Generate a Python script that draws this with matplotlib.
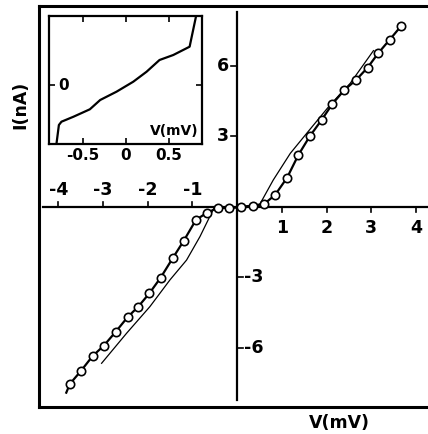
import matplotlib
matplotlib.use("Agg")
import matplotlib.pyplot as plt
import numpy as np

# measured I-V points (open circles), V in mV, I in nA
v_meas = [-3.74, -3.49, -3.23, -2.98, -2.71, -2.45, -2.21, -1.96, -1.71, -1.44,
          -1.19, -0.92, -0.67, -0.43, -0.18, 0.09, 0.36, 0.60, 0.85, 1.12,
          1.37, 1.63, 1.89, 2.13, 2.40, 2.66, 2.92, 3.16, 3.41, 3.67]
i_meas = [-7.53, -6.97, -6.34, -5.90, -5.30, -4.69, -4.24, -3.67, -3.01, -2.18,
          -1.43, -0.55, -0.24, -0.04, -0.04, -0.02, 0.05, 0.12, 0.51, 1.25,
          2.21, 3.02, 3.70, 4.38, 4.98, 5.40, 5.93, 6.55, 7.11, 7.70]
# the measured line runs a bit past the last negative point
v_meas_end = -3.82
i_meas_end = -7.90

# calculated curve (thin line)
v_calc = [-3.03, -2.47, -1.95, -1.50, -1.13, -0.83, -0.51, 0.0, 0.51,
          0.81, 1.19, 1.56, 2.08, 2.53, 3.05]
i_calc = [-6.65, -5.37, -4.24, -3.10, -2.26, -1.26, -0.02, 0.0, 0.12,
          1.15, 2.28, 3.14, 4.34, 5.26, 6.65]

# inset trace near zero bias (arbitrary units)
v_inset = [-0.81, -0.78, -0.75, -0.61, -0.42, -0.30, -0.11, 0.085, 0.24,
           0.39, 0.55, 0.74, 0.83]
y_inset = [-6.0, -4.0, -3.67, -3.17, -2.43, -1.5, -0.67, 0.33, 1.33,
           2.5, 3.0, 3.83, 7.5]

xticks_neg = [-4, -3, -2, -1]
xticks_pos = [1, 2, 3, 4]
yticks_pos = [6, 3]
yticks_neg = [-3, -6]
inset_xticks = [-0.5, 0, 0.5]
inset_xlabels = ["-0.5", "0", "0.5"]

W, H = 428, 434
fig = plt.figure(figsize=(W / 100, H / 100), dpi=100)
font = dict(family="DejaVu Sans", weight="bold")
fs = 12.5

ax = fig.add_axes([39 / W, 1 - 407 / H, 1 - 39 / W, 401 / H])
ax.set_xlim(-4.43, 4.27)
ax.set_ylim(-8.51, 8.55)
ax.set_xticks([])
ax.set_yticks([])
for s in ["left", "top", "bottom"]:
    ax.spines[s].set_linewidth(2.2)
ax.spines["right"].set_visible(False)

# centre axes
ax.axhline(0, xmin=0.01, xmax=1.0, color="black", lw=1.6)
ax.axvline(0, ymin=0.017, ymax=0.985, color="black", lw=1.6)

for t in xticks_neg:
    ax.plot([t, t], [0, 0.22], color="black", lw=1.2)
    ax.text(t, 0.72, f"-{abs(t)}", ha="center", va="center", fontsize=fs, **font)
for t in xticks_pos:
    ax.plot([t, t], [0, -0.22], color="black", lw=1.2)
    ax.text(t, -0.88, f"{t}", ha="center", va="center", fontsize=fs, **font)
for t in yticks_pos:
    ax.plot([-0.13, 0], [t, t], color="black", lw=1.2)
    ax.text(-0.32, t, f"{t}", ha="center", va="center", fontsize=fs, **font)
for t in yticks_neg:
    ax.plot([0, 0.13], [t, t], color="black", lw=1.2)
    ax.text(0.38, t, f"-{abs(t)}", ha="center", va="center", fontsize=fs, **font)

ax.plot(v_calc, i_calc, color="black", lw=0.9)
ax.plot([v_meas_end] + v_meas, [i_meas_end] + i_meas, color="black", lw=1.6)
ax.plot(v_meas, i_meas, "o", ms=6, mfc="white", mec="black", mew=1.2)

fig.text(20 / W, 1 - 105 / H, "I(nA)", rotation=90, ha="center", va="center",
         fontsize=fs, **font)
fig.text(339 / W, 1 - 423 / H, "V(mV)", ha="center", va="center", fontsize=fs, **font)

# inset
axi = fig.add_axes([49 / W, 1 - 144 / H, 153 / W, 128 / H])
axi.set_xlim(-0.895, 0.884)
axi.set_ylim(-5.9, 6.9)
for s in axi.spines.values():
    s.set_linewidth(1.6)
axi.plot(v_inset, y_inset, color="black", lw=1.6)
axi.set_xticks(inset_xticks)
axi.set_xticklabels(inset_xlabels, fontsize=11, fontweight="bold")
axi.set_yticks([0])
axi.set_yticklabels([])
axi.tick_params(direction="in", length=4, width=1.2, top=True, right=True, pad=3)
axi.text(-0.79, 0, "0", ha="left", va="center", fontsize=11, **font)
axi.text(0.84, -4.6, "V(mV)", ha="right", va="center", fontsize=10, **font)

fig.savefig("out.png", dpi=100)
